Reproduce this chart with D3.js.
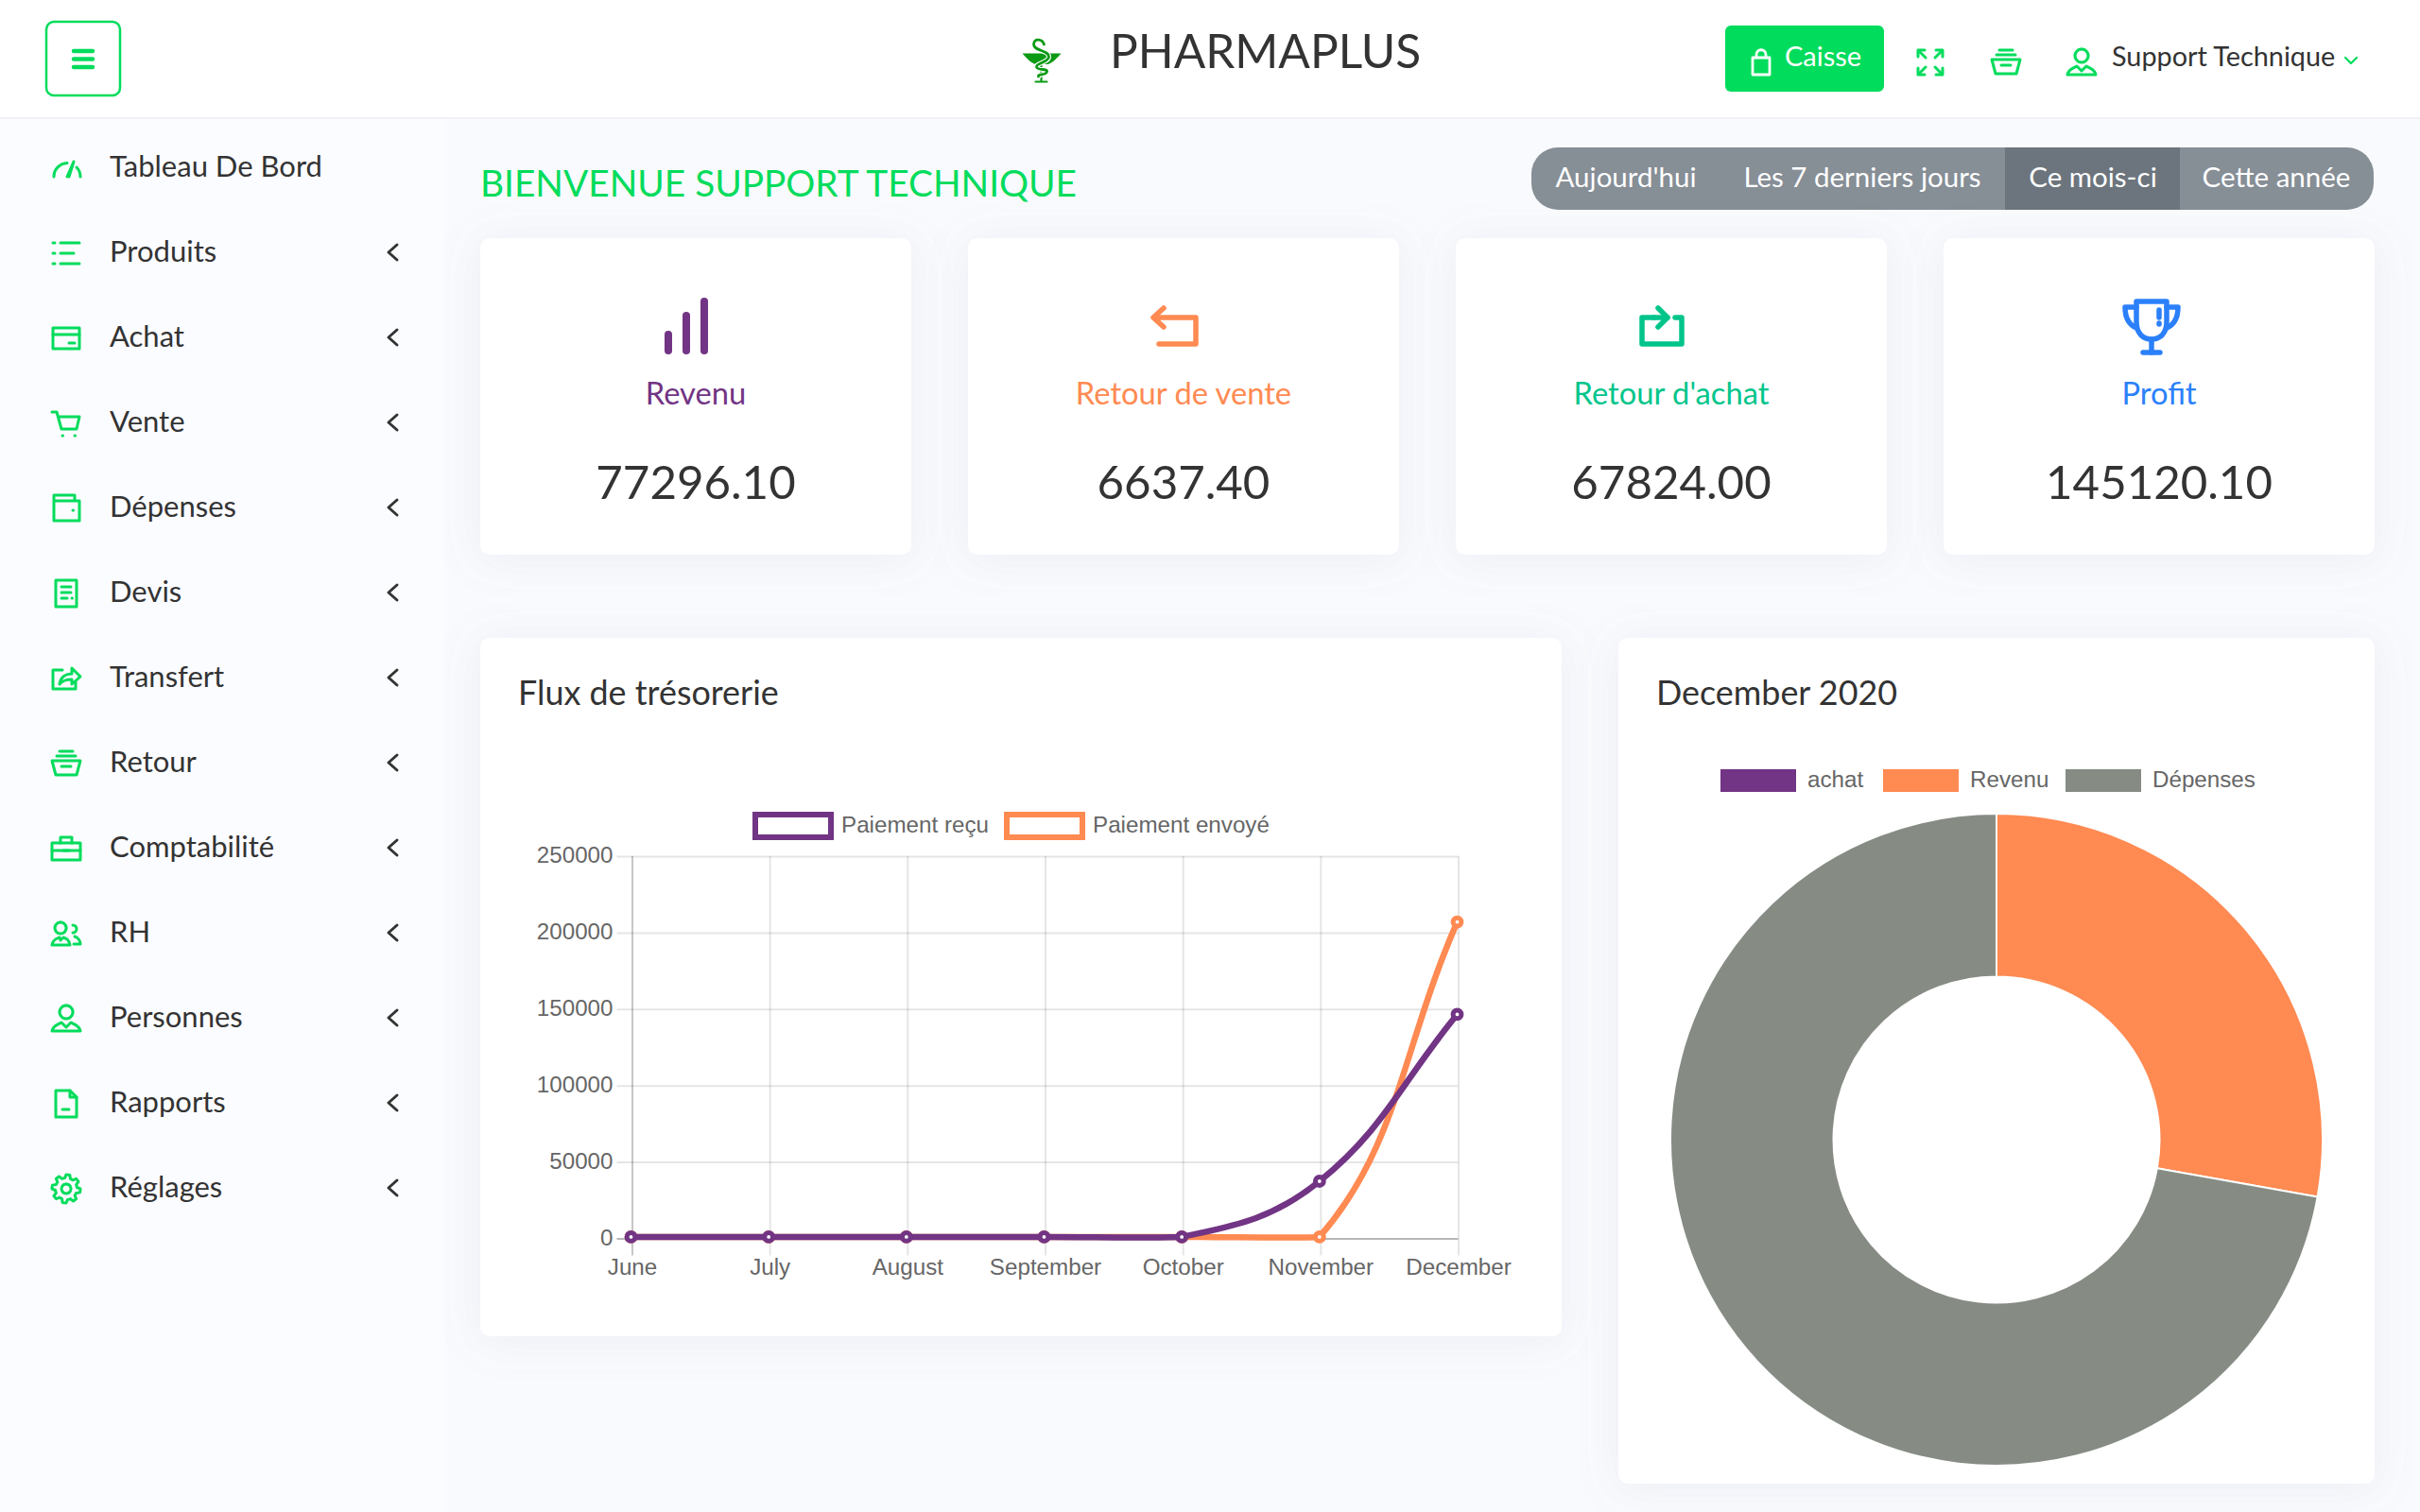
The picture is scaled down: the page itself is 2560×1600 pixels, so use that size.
<!DOCTYPE html>
<html>
<head>
<meta charset="utf-8">
<title>Pharmaplus</title>
<script src="https://cdn.jsdelivr.net/npm/d3@7"></script>
<style>
  html, body { margin: 0; padding: 0; background: #f9fafd; }
  svg { display: block; }
  text { font-family: Lato, "Open Sans", sans-serif; }
  .chartText, .chartText text { font-family: "Liberation Sans", Arial, sans-serif; font-size: 24.2px; fill: #666; }
</style>
</head>
<body>
<div id="page"></div>
<script>
// chart data
const months = ["June", "July", "August", "September", "October", "November", "December"];
const yTicks = [0, 50000, 100000, 150000, 200000, 250000];
const paiementRecu = [1000, 1000, 1000, 1000, 1000, 37400, 146500];
const paiementEnvoye = [1000, 1000, 1000, 1000, 1000, 1000, 207000];
const donutLabels = ["achat", "Revenu", "Dépenses"];
const donutValues = [0, 77296.10, 200700];

// page content
const menuLabels = ["Tableau De Bord", "Produits", "Achat", "Vente", "Dépenses", "Devis", "Transfert", "Retour", "Comptabilité", "RH", "Personnes", "Rapports", "Réglages"];
const cardLabels = ["Revenu", "Retour de vente", "Retour d'achat", "Profit"];
const cardValues = ["77296.10", "6637.40", "67824.00", "145120.10"];
const periodLabels = ["Aujourd'hui", "Les 7 derniers jours", "Ce mois-ci", "Cette année"];

const green = "#02dc5c", purple = "#723484", orange = "#ff8a52", gray = "#868c84", teal = "#00c58b", blue = "#2b80fa", dark = "#333";

const svg = d3.select("#page").append("svg").attr("width", 2560).attr("height", 1600);

// soft shadow behind the white panels
const shadow = svg.append("defs").append("filter").attr("id", "panelShadow")
    .attr("x", "-20%").attr("y", "-20%").attr("width", "140%").attr("height", "140%");
shadow.append("feDropShadow").attr("dx", 0).attr("dy", 4).attr("stdDeviation", 22)
    .attr("flood-color", "#8c96b4").attr("flood-opacity", 0.12);

svg.append("rect").attr("width", 2560).attr("height", 1600).attr("fill", "#f9fafd");
svg.append("rect").attr("y", 124).attr("width", 470).attr("height", 1476).attr("fill", "#fbfcff");

// header
svg.append("rect").attr("width", 2560).attr("height", 124).attr("fill", "#fff");
svg.append("rect").attr("y", 124).attr("width", 2560).attr("height", 2).attr("fill", "#f0f1f4");

function strokeIcon(parent, x, y, paths, color, width) {
    const g = parent.append("g").attr("transform", `translate(${x},${y})`)
        .attr("fill", "none").attr("stroke", color).attr("stroke-width", width)
        .attr("stroke-linecap", "round").attr("stroke-linejoin", "round");
    paths.forEach(p => g.append("path").attr("d", p));
    return g;
}

// gear outline, built once for the last menu entry
const gearPoints = d3.range(0, 48).map(i => {
    const a = i / 48 * 2 * Math.PI, s = i % 6;
    return [a, s < 3 ? 15 : 11.5];
});
const gearPath = d3.lineRadial().curve(d3.curveLinearClosed)(gearPoints);

const menuIcons = [
    ["M-13 9C-13 0-6-5 1-5.5", "M1 9L8-7M3 9L8-7", "M15 9C15 5 13 1 11-1"],
    ["M-14-11h2", "M-6-11H14", "M-14 0h2", "M-6 0H8", "M-14 11h2", "M-6 11H14"],
    ["M-14-11H14V11H-14Z", "M-14-4H14", "M3 5H9"],
    ["M-15-12H-10L-5 6H11L14-7H-8", "M-4 13h.5", "M9 13h.5"],
    ["M-13-8V13H14V-8H-13V-14H9V-8", "M7 2h.5"],
    ["M-11-14H11V14H-11Z", "M-5-7H5", "M-5-1H5", "M-5 5H1", "M6 5h.5"],
    ["M-4-9H-14V11H10V3", "M-7 6C-6-2 0-5 6-5V-11L15-2 6 6V1C1 1-4 2-7 6"],
    ["M-15-3H15L11 12H-11Z", "M-10-8H10", "M-7-13H7", "M-5 3H5"],
    ["M-15-6H15V12H-15Z", "M-6-6V-12H6V-6", "M-15 2H15", "M-3 2H3"],
    ["M-6-12a6 6 0 1 0 .1 0", "M-15 12C-14 6-10 5-7 4L-6 7-3 4C0 5 3 6 4 12Z", "M7-9a4 4 0 1 1 0 8", "M9 3C12 4 15 7 15 11H8"],
    ["M0-14a7 7 0 1 0 .1 0", "M-15 13C-14 7-8 6-5 4L0 9 5 4C8 6 14 7 15 13Z"],
    ["M-11-14H4L11-7V14H-11Z", "M4-14V-7H11", "M-4 6H3"],
    [gearPath, "M0-5a5 5 0 1 0 .1 0"]
];

// menu button, brand and right side of the header
svg.append("rect").attr("x", 49).attr("y", 23).attr("width", 78).attr("height", 78).attr("rx", 8)
    .attr("fill", "#fff").attr("stroke", green).attr("stroke-width", 2.5);
strokeIcon(svg, 88, 62.5, ["M-10-8.5H10", "M-10 0H10", "M-10 8.5H10"], green, 4.5);

// bowl and snake logo
const logoColor = "#0a9a14";
const snake = "M3-17C1-23-8-24-8-17-8-10 8-11 8-4 8 2-6 3-5 7-4 11 7 8 6 12 5 16-4 14-3 17";
svg.append("path").attr("transform", "translate(1101.5,64)").attr("fill", logoColor)
    .attr("d", "M-20-7.5H21C17-3 11 4 6 4H-5C-10 4-16-3-20-7.5Z");
strokeIcon(svg, 1101.5, 64, ["M0 4V22", "M-6 22.5H6"], logoColor, 2.2);
strokeIcon(svg, 1101.5, 64, [snake], "#fff", 5);
strokeIcon(svg, 1101.5, 64, [snake], logoColor, 2.8);

svg.append("text").attr("x", 1174).attr("y", 72).attr("font-size", 49.6).attr("fill", dark).text("PHARMAPLUS");

svg.append("rect").attr("x", 1825).attr("y", 27).attr("width", 168).attr("height", 70).attr("rx", 6).attr("fill", green);
strokeIcon(svg, 1863, 66, ["M-9-5H9V13H-9Z", "M-5-5V-8C-5-15 5-15 5-8V-5"], "#fff", 2.8);
svg.append("text").attr("x", 1888).attr("y", 70).attr("font-size", 29).attr("fill", "#fff").text("Caisse");

strokeIcon(svg, 2042, 66, ["M-13-6V-13H-6", "M6-13H13V-6", "M-13 6V13H-6", "M6 13H13V6", "M-12-12L-5-5", "M12-12L5-5", "M-12 12L-5 5", "M12 12L5 5"], green, 3);
strokeIcon(svg, 2122, 66, menuIcons[7], green, 3);
strokeIcon(svg, 2202, 66, menuIcons[10], green, 3);
svg.append("text").attr("x", 2234).attr("y", 70).attr("font-size", 28.8).attr("fill", dark).text("Support Technique");
strokeIcon(svg, 2487, 64, ["M-6-3L0 3 6-3"], green, 2.2);

// sidebar
const menu = svg.append("g").selectAll("g").data(menuLabels).join("g")
    .attr("transform", (d, i) => `translate(0,${178 + i * 90})`);
menu.each(function(d, i) {
    strokeIcon(d3.select(this), 70, 0, menuIcons[i], green, 3);
    if (i > 0) strokeIcon(d3.select(this), 415, -1, ["M5-8L-4 0 5 8"], dark, 3);
});
menu.append("text").attr("x", 116).attr("y", 8.5).attr("font-size", 31).attr("fill", dark).text(d => d);

// welcome line and period switch
svg.append("text").attr("x", 508).attr("y", 208).attr("font-size", 38.8).attr("fill", green).text("BIENVENUE SUPPORT TECHNIQUE");

svg.append("rect").attr("x", 1620).attr("y", 156).attr("width", 891).attr("height", 66).attr("rx", 28).attr("fill", "#868e96");
svg.append("rect").attr("x", 2121).attr("y", 156).attr("width", 185).attr("height", 66).attr("fill", "#6c757d");
const periodX = [1720, 1970, 2214, 2408];
svg.append("g").selectAll("text").data(periodLabels).join("text")
    .attr("x", (d, i) => periodX[i]).attr("y", 198).attr("text-anchor", "middle")
    .attr("font-size", 29.5).attr("fill", "#fff").text(d => d);

// summary cards
const cardX = [508, 1024, 1540, 2056];
const cardColors = [purple, orange, teal, blue];
const cardIcons = [
    { dx: -13, w: 8, paths: ["M-16 25V8", "M3 25V-12", "M22 25V-27"] },
    { dx: -10, w: 5.5, paths: ["M-20-10H23V18H-16", "M-11-20L-22-10-11 0"] },
    { dx: -10, w: 5.5, paths: ["M-8-10H-21V18H21V-10H14", "M-4-20L6-10-4 0", "M-8-10H6"] },
    { dx: -7, w: 5.5, paths: ["M-17-27H15V-6C15 8 7 13-1 13-9 13-17 8-17-6Z", "M-17-21H-29C-29-8-24-2-17 1", "M15-21H27C27-8 22-2 15 1", "M-1 13V27", "M-10 27H8", "M7-18V-10", "M7-4V-3"] }
];
const cards = svg.append("g").selectAll("g").data(cardLabels).join("g")
    .attr("transform", (d, i) => `translate(${cardX[i]},252)`);
cards.append("rect").attr("width", 456).attr("height", 335).attr("rx", 10).attr("fill", "#fff").attr("filter", "url(#panelShadow)");
cards.each(function(d, i) {
    strokeIcon(d3.select(this), 228 + cardIcons[i].dx, 94, cardIcons[i].paths, cardColors[i], cardIcons[i].w);
});
cards.append("text").attr("x", 228).attr("y", 176).attr("text-anchor", "middle").attr("font-size", 32.7)
    .attr("fill", (d, i) => cardColors[i]).text(d => d);
cards.append("text").attr("x", 228).attr("y", 275.5).attr("text-anchor", "middle").attr("font-size", 49.2)
    .attr("fill", dark).text((d, i) => cardValues[i]);

// panels for the two charts
svg.append("rect").attr("x", 508).attr("y", 675).attr("width", 1144).attr("height", 739).attr("rx", 10).attr("fill", "#fff").attr("filter", "url(#panelShadow)");
svg.append("rect").attr("x", 1712).attr("y", 675).attr("width", 800).attr("height", 895).attr("rx", 10).attr("fill", "#fff").attr("filter", "url(#panelShadow)");
svg.append("text").attr("x", 548).attr("y", 746).attr("font-size", 35.9).attr("fill", dark).text("Flux de trésorerie");
svg.append("text").attr("x", 1752).attr("y", 746).attr("font-size", 35.9).attr("fill", dark).text("December 2020");

// line chart
const plot = { left: 668.5, right: 1542.5, top: 906, bottom: 1310.5 };
const x = d3.scalePoint().domain(months).range([plot.left, plot.right]);
const y = d3.scaleLinear().domain([0, 250000]).range([plot.bottom, plot.top]);

const gridColor = "rgba(0,0,0,0.1)";
const yAxis = svg.append("g").attr("class", "chartText").attr("transform", `translate(${plot.right},0)`)
    .call(d3.axisLeft(y).tickValues(yTicks).tickFormat(d => d).tickSize(plot.right - plot.left + 16).tickPadding(4));
yAxis.select(".domain").remove();
yAxis.selectAll("line").attr("stroke", d => d === 0 ? "rgba(0,0,0,0.28)" : gridColor).attr("stroke-width", 2);
yAxis.selectAll("text").attr("dy", "0.27em");

const xAxis = svg.append("g").attr("class", "chartText").attr("transform", `translate(0,${plot.top})`)
    .call(d3.axisBottom(x).tickSize(plot.bottom - plot.top + 18).tickPadding(3.5));
xAxis.select(".domain").remove();
xAxis.selectAll("line").attr("stroke", (d, i) => i === 0 ? "rgba(0,0,0,0.22)" : gridColor).attr("stroke-width", 2);
xAxis.selectAll("text").attr("dy", "0.71em");

// bezier smoothing with tension 0.4, control points kept inside the plot
function tensionCurve(context) {
    let pts = [];
    const clamp = v => Math.min(plot.bottom, Math.max(plot.top, v));
    return {
        areaStart() {}, areaEnd() {},
        lineStart() { pts = []; },
        point(px, py) { pts.push([px, py]); },
        lineEnd() {
            const ctrl = pts.map((cur, i) => {
                const prev = pts[i - 1] || cur, next = pts[i + 1] || cur;
                const d01 = Math.hypot(cur[0] - prev[0], cur[1] - prev[1]);
                const d12 = Math.hypot(next[0] - cur[0], next[1] - cur[1]);
                const fa = 0.4 * d01 / (d01 + d12), fb = 0.4 * d12 / (d01 + d12);
                return {
                    inn: [cur[0] - fa * (next[0] - prev[0]), clamp(cur[1] - fa * (next[1] - prev[1]))],
                    out: [cur[0] + fb * (next[0] - prev[0]), clamp(cur[1] + fb * (next[1] - prev[1]))]
                };
            });
            pts.forEach((p, i) => {
                if (i === 0) context.moveTo(p[0], p[1]);
                else context.bezierCurveTo(ctrl[i - 1].out[0], ctrl[i - 1].out[1], ctrl[i].inn[0], ctrl[i].inn[1], p[0], p[1]);
            });
        }
    };
}

const line = d3.line().x((d, i) => x(months[i])).y(d => y(d)).curve(tensionCurve);
const series = [
    { label: "Paiement envoyé", values: paiementEnvoye, color: orange },
    { label: "Paiement reçu", values: paiementRecu, color: purple }
];
const lines = svg.append("g").attr("transform", "translate(-1,0)");
series.forEach(s => {
    lines.append("path").datum(s.values).attr("fill", "none").attr("stroke", s.color).attr("stroke-width", 6.5).attr("d", line);
    lines.append("g").selectAll("circle").data(s.values).join("circle")
        .attr("cx", (d, i) => x(months[i])).attr("cy", d => y(d)).attr("r", 4.4)
        .attr("fill", "#fff").attr("stroke", s.color).attr("stroke-width", 5);
});

// line chart legend
const lineLegendX = [799, 1065];
const lineLegend = svg.append("g").attr("class", "chartText").selectAll("g").data(series.slice().reverse()).join("g")
    .attr("transform", (d, i) => `translate(${lineLegendX[i]},862)`);
lineLegend.append("rect").attr("width", 80).attr("height", 24).attr("fill", "#fff").attr("stroke", d => d.color).attr("stroke-width", 6);
lineLegend.append("text").attr("x", 91).attr("y", 19).text(d => d.label);

// doughnut
const donutColors = [purple, orange, gray];
const pie = d3.pie().sort(null);
const arc = d3.arc().innerRadius(172.5).outerRadius(345);
svg.append("g").attr("transform", "translate(2112,1206)").selectAll("path")
    .data(pie(donutValues)).join("path")
    .attr("d", arc).attr("fill", (d, i) => donutColors[i]).attr("stroke", "#fff").attr("stroke-width", 2);

const donutLegendX = [1820, 1992, 2185];
const donutLegend = svg.append("g").attr("class", "chartText").selectAll("g").data(donutLabels).join("g")
    .attr("transform", (d, i) => `translate(${donutLegendX[i]},814)`);
donutLegend.append("rect").attr("width", 80).attr("height", 24).attr("fill", (d, i) => donutColors[i]);
donutLegend.append("text").attr("x", 92).attr("y", 19).text(d => d);
</script>
</body>
</html>
